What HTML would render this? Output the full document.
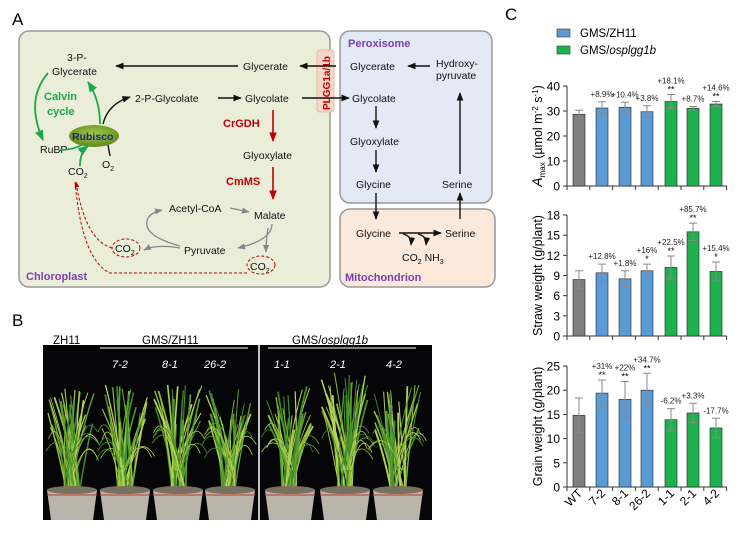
<!DOCTYPE html>
<html><head><meta charset="utf-8"><style>
html,body{margin:0;padding:0;background:#fff}
svg{display:block;font-family:"Liberation Sans",Arial,sans-serif}
</style></head><body>
<svg id="s" width="749" height="551" viewBox="0 0 749 551" xmlns="http://www.w3.org/2000/svg">
<defs>
<marker id="ab" viewBox="0 0 10 10" refX="9" refY="5" markerWidth="6" markerHeight="6" orient="auto"><path d="M0,1 L10,5 L0,9 z" fill="#111"/></marker>
<marker id="ar" viewBox="0 0 10 10" refX="9" refY="5" markerWidth="6" markerHeight="6" orient="auto"><path d="M0,1 L10,5 L0,9 z" fill="#c00000"/></marker>
<marker id="ag" viewBox="0 0 10 10" refX="9" refY="5" markerWidth="6" markerHeight="6" orient="auto"><path d="M0,1 L10,5 L0,9 z" fill="#1aa84a"/></marker>
<marker id="agr" viewBox="0 0 10 10" refX="9" refY="5" markerWidth="6" markerHeight="6" orient="auto"><path d="M0,1 L10,5 L0,9 z" fill="#888"/></marker>
<radialGradient id="rub" cx="0.5" cy="0.4" r="0.6"><stop offset="0" stop-color="#a6c94a"/><stop offset="1" stop-color="#5d8a1c"/></radialGradient>
</defs>
<text x="12" y="25" font-size="17">A</text>
<rect x="19" y="31" width="311" height="256" rx="10" fill="#eaeed9" stroke="#999" stroke-width="1.5"/>
<rect x="340" y="31" width="152" height="172" rx="10" fill="#e3e9f5" stroke="#999" stroke-width="1.5"/>
<rect x="340" y="209" width="155" height="78" rx="10" fill="#fbe9dc" stroke="#999" stroke-width="1.5"/>
<rect x="317" y="50" width="17" height="62" rx="3" fill="#f9d6c8" stroke="#e8b8a8"/>
<text transform="translate(330,110) rotate(-90)" font-size="10" font-weight="bold" fill="#c00000">PLGG1a/1b</text>
<g font-size="10.5" fill="#111">
<text x="67" y="61">3-P-</text><text x="52" y="75">Glycerate</text>
<text x="243" y="70">Glycerate</text><text x="350" y="70">Glycerate</text>
<text x="436" y="67">Hydroxy-</text><text x="436" y="79">pyruvate</text>
<text x="135" y="102">2-P-Glycolate</text><text x="245" y="102">Glycolate</text><text x="352" y="102">Glycolate</text>
<text x="243" y="159">Glyoxylate</text><text x="350" y="145">Glyoxylate</text>
<text x="356" y="188">Glycine</text><text x="442" y="188">Serine</text>
<text x="356" y="237">Glycine</text><text x="445" y="237">Serine</text>
<text x="402" y="261">CO<tspan font-size="7" dy="3">2</tspan><tspan dy="-3"> NH</tspan><tspan font-size="7" dy="3">3</tspan></text>
<text x="169" y="212">Acetyl-CoA</text><text x="254" y="219">Malate</text>
<text x="184" y="254">Pyruvate</text>
<text x="40" y="153">RuBP</text>
<text x="68" y="175">CO<tspan font-size="7" dy="3">2</tspan></text>
<text x="102" y="168">O<tspan font-size="7" dy="3">2</tspan></text>
<text x="115" y="252">CO<tspan font-size="7" dy="3">2</tspan></text>
<text x="250" y="270">CO<tspan font-size="7" dy="3">2</tspan></text>
</g>
<g font-size="11" font-weight="bold">
<text x="348" y="47" fill="#7b3fb0">Peroxisome</text>
<text x="345" y="281" fill="#7b3fb0">Mitochondrion</text>
<text x="26" y="280" fill="#7b3fb0">Chloroplast</text>
<text x="44" y="100" fill="#1aa84a">Calvin</text><text x="47" y="115" fill="#1aa84a">cycle</text>
<text x="223" y="127" fill="#c00000">CrGDH</text><text x="226" y="185" fill="#c00000">CmMS</text>
</g>
<ellipse cx="94" cy="136" rx="25" ry="11" fill="url(#rub)"/>
<text x="72" y="140" font-size="10.5" font-weight="bold" fill="#1a2a6a">Rubisco</text>
<g stroke="#111" stroke-width="1.4" fill="none">
<line x1="238" y1="66" x2="116" y2="66" marker-end="url(#ab)"/>
<line x1="336" y1="66" x2="300" y2="66" marker-end="url(#ab)"/>
<line x1="430" y1="66" x2="408" y2="66" marker-end="url(#ab)"/>
<line x1="218" y1="98" x2="241" y2="98" marker-end="url(#ab)"/>
<line x1="302" y1="98" x2="349" y2="98" marker-end="url(#ab)"/>
<path d="M103,124 Q108,104 130,97" marker-end="url(#ab)"/>
<line x1="108" y1="145" x2="110" y2="156"/>
<line x1="376" y1="106" x2="376" y2="128" marker-end="url(#ab)"/>
<line x1="376" y1="150" x2="376" y2="172" marker-end="url(#ab)"/>
<line x1="376" y1="193" x2="376" y2="219" marker-end="url(#ab)"/>
<line x1="460" y1="219" x2="460" y2="193" marker-end="url(#ab)"/>
<line x1="460" y1="174" x2="460" y2="93" marker-end="url(#ab)"/>
<line x1="399" y1="233" x2="441" y2="233" marker-end="url(#ab)"/>
<path d="M403,234 Q412,236 411,245" marker-end="url(#ab)"/>
<path d="M418,234 Q427,236 426,245" marker-end="url(#ab)"/>
</g>
<g stroke="#c00000" stroke-width="1.6" fill="none">
<line x1="273" y1="110" x2="273" y2="141" marker-end="url(#ar)"/>
<line x1="273" y1="167" x2="273" y2="199" marker-end="url(#ar)"/>
</g>
<g stroke="#c00000" stroke-width="1" fill="none" stroke-dasharray="3,2">
<ellipse cx="126" cy="248" rx="14" ry="9"/>
<ellipse cx="261" cy="265" rx="14" ry="9"/>
<path d="M112,248 Q85,240 76,182" marker-end="url(#ar)"/>
<path d="M247,273 L110,273 Q82,260 75,182"/>
</g>
<g stroke="#888" stroke-width="1.3" fill="none">
<line x1="230" y1="208" x2="249" y2="212" marker-end="url(#agr)"/>
<path d="M272,224 Q272,240 238,248" marker-end="url(#agr)"/>
<path d="M268,228 Q266,240 266,252" marker-end="url(#agr)"/>
<path d="M180,248 Q156,244 144,250" marker-end="url(#agr)"/>
<path d="M180,246 Q140,235 148,218 Q152,212 162,210" marker-end="url(#agr)"/>
</g>
<g stroke="#1aa84a" stroke-width="1.8" fill="none">
<path d="M48,73 Q25,100 43,140" marker-end="url(#ag)"/>
<path d="M100,124 Q100,100 88,82" marker-end="url(#ag)"/>
<path d="M80,166 Q80,152 88,146" marker-end="url(#ag)"/>
<path d="M60,150 Q72,150 82,145"/>
</g>

<text x="12" y="326" font-size="17">B</text>
<g font-size="11.5">
<text x="53" y="344">ZH11</text>
<text x="142" y="344">GMS/ZH11</text>
<text x="292" y="344">GMS/<tspan font-style="italic">osplgg1b</tspan></text>
</g>
<rect x="43" y="345" width="389" height="175" fill="#060608"/>
<g id="plants"></g>
<line x1="259" y1="345" x2="259" y2="520" stroke="#fff" stroke-width="1.5"/>
<line x1="100" y1="348" x2="248" y2="348" stroke="#aaa" stroke-width="1.5"/>
<line x1="268" y1="348" x2="416" y2="348" stroke="#aaa" stroke-width="1.5"/>
<g font-size="11" font-style="italic" fill="#fff">
<text x="112" y="368">7-2</text><text x="162" y="368">8-1</text><text x="204" y="368">26-2</text>
<text x="274" y="368">1-1</text><text x="330" y="368">2-1</text><text x="386" y="368">4-2</text>
</g>

<text x="505" y="20" font-size="17">C</text>
<rect x="557" y="29" width="13" height="8" fill="#5b9bd5" stroke="#333" stroke-width="0.6"/>
<rect x="557" y="46" width="13" height="8" fill="#1db24b" stroke="#333" stroke-width="0.6"/>
<text x="580" y="37" font-size="11.5">GMS/ZH11</text>
<text x="580" y="54" font-size="11.5">GMS/<tspan font-style="italic">osplgg1b</tspan></text>
<g id="charts"></g>
</svg>
<script>
var NS="http://www.w3.org/2000/svg";
function el(p,t,a,txt){var e=document.createElementNS(NS,t);for(var k in a)e.setAttribute(k,a[k]);if(txt!=null)e.textContent=txt;p.appendChild(e);return e;}
var seed=7;function r(){seed=(seed*9301+49297)%233280;return seed/233280;}
var P=document.getElementById("plants");
var pots=[72,125,178,230,290,345,398];
var cols=["#8fbf3a","#4f9a2e","#a9c94a","#3f8a2a","#b7d45a","#5a9e30"];
pots.forEach(function(cx,i){
 var top=i==5?372:385;
 for(var k=0;k<30;k++){
  var bx=cx-8+r()*16, tx=cx-24+r()*48, ty=top+r()*45, mx=bx+(tx-bx)*0.3+(r()-0.5)*6, my=(490+ty)/2;
  el(P,"path",{d:"M"+bx+",492 Q"+mx+","+my+" "+tx+","+ty,stroke:cols[k%6],"stroke-width":0.8+r()*1.2,fill:"none"});
 }
 for(var k=0;k<8;k++){var bx=cx-6+r()*12,tx=cx+(r()<0.5?-1:1)*(22+r()*8),ty=430+r()*30;
  el(P,"path",{d:"M"+bx+",470 Q"+(bx+(tx-bx)*0.5)+","+(ty-25)+" "+tx+","+ty,stroke:cols[(k+2)%6],"stroke-width":0.8,fill:"none"});}
 el(P,"path",{d:"M"+(cx-25)+",490 L"+(cx+25)+",490 L"+(cx+21)+",520 L"+(cx-21)+",520 z",fill:"#b9b5ab"});
 el(P,"ellipse",{cx:cx,cy:490,rx:25,ry:4,fill:"#7a7060"});
 el(P,"path",{d:"M"+(cx-25)+",495 L"+(cx+25)+",495",stroke:"#c0392b","stroke-width":1});
});
var C=document.getElementById("charts");
var xs=[579,602,625,647,671,693,716], fills=["#7f7f7f","#5b9bd5","#5b9bd5","#5b9bd5","#1db24b","#1db24b","#1db24b"];
function chart(y0,yTop,max,step,vals,errs,labs,stars,ylab,ylabHtml){
 var sc=(y0-yTop)/max;
 el(C,"line",{x1:567,y1:y0,x2:727,y2:y0,stroke:"#333","stroke-width":1});
 el(C,"line",{x1:567,y1:y0,x2:567,y2:yTop,stroke:"#333","stroke-width":1});
 for(var v=0;v<=max+0.01;v+=step){var y=y0-v*sc;el(C,"line",{x1:563,y1:y,x2:567,y2:y,stroke:"#333"});el(C,"text",{x:560,y:y+4.5,"font-size":12,"text-anchor":"end"},String(v));}
 for(var i=0;i<8;i++){var x=567+i*22.8;el(C,"line",{x1:x,y1:y0,x2:x,y2:y0+4,stroke:"#333"});}
 vals.forEach(function(v,i){var h=v*sc;el(C,"rect",{x:xs[i]-6,y:y0-h,width:12,height:h,fill:fills[i],stroke:"#222","stroke-width":0.6});
  var e=errs[i]*sc,x=xs[i];el(C,"path",{d:"M"+x+","+(y0-h-e)+" V"+(y0-h+e)+" M"+(x-4)+","+(y0-h-e)+" H"+(x+4)+" M"+(x-4)+","+(y0-h+e)+" H"+(x+4),stroke:"#888","stroke-width":1,fill:"none"});
  if(labs[i]){var ty=y0-h-e-(stars[i]?11:5);el(C,"text",{x:x,y:ty,"font-size":8,"text-anchor":"middle",fill:"#222"},labs[i]);
   if(stars[i])el(C,"text",{x:x,y:ty+9,"font-size":9,"text-anchor":"middle"},stars[i]);}
 });
 var cy=(y0+yTop)/2;var t=el(C,"text",{transform:"translate(542,"+cy+") rotate(-90)","font-size":12.5,"text-anchor":"middle"});
 if(ylabHtml){t.innerHTML=ylabHtml;}else t.textContent=ylab;
}
chart(186,86,40,10,[28.7,31.2,31.5,29.7,33.8,31.1,32.8],[1.6,2.5,2,2.4,2.8,0.7,1],["","+8.9%","+10.4%","+3.8%","+18.1%","+8.7%","+14.6%"],["","","","","**","","**"],"","<tspan font-style='italic' font-size='14'>A</tspan><tspan font-size='8' dy='3'>max</tspan><tspan dy='-3'> (µmol m</tspan><tspan font-size='8' dy='-4'>-2</tspan><tspan dy='4'> s</tspan><tspan font-size='8' dy='-4'>-1</tspan><tspan dy='4'>)</tspan>");
chart(336,215,18,3,[8.4,9.4,8.5,9.7,10.2,15.5,9.6],[1.3,1.3,1.2,1,1.7,1.3,1.4],["","+12.8%","+1.8%","+16%","+22.5%","+85.7%","+15.4%"],["","","","*","**","**","*"],"Straw weight (g/plant)");
chart(487,366,25,5,[14.8,19.4,18.1,20,13.9,15.3,12.2],[3.6,2.7,3.7,3.5,2.3,2,2],["","+31%","+22%","+34.7%","-6.2%","+3.3%","-17.7%"],["","**","**","**","","",""],"Grain weight (g/plant)");
["WT","7-2","8-1","26-2","1-1","2-1","4-2"].forEach(function(l,i){el(C,"text",{transform:"translate("+(xs[i]+4)+",494) rotate(-45)","font-size":12,"text-anchor":"end"},l);});
</script>
</body></html>
